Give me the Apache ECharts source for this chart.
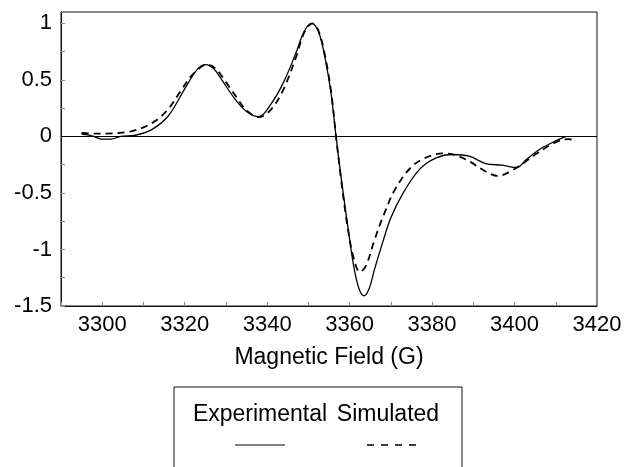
<!DOCTYPE html>
<html>
<head>
<meta charset="utf-8">
<script src="https://cdn.jsdelivr.net/npm/echarts@6/dist/echarts.min.js"></script>
<style>
  html, body { margin: 0; padding: 0; background: #fff; }
  #chart { width: 625px; height: 467px; }
</style>
</head>
<body>
<div id="chart"></div>
<script>
// ── Data ───────────────────────────────────────────────
const expField = [3295, 3297.5, 3300, 3302, 3304.5, 3308, 3312, 3316, 3320, 3323, 3325, 3327, 3329, 3332, 3335, 3338,
  3341, 3344, 3347, 3349, 3350.8, 3352.5, 3354, 3355.5, 3356.7, 3358, 3359.5, 3361, 3362.3, 3363.5, 3364.8, 3366,
  3368, 3370, 3373, 3377, 3381, 3385, 3389, 3393, 3397, 3400.5, 3403, 3406.5, 3410, 3412.5];
const expSignal = [0.02, 0.005, -0.025, -0.025, 0.0, 0.01, 0.06, 0.18, 0.42, 0.59, 0.635, 0.6, 0.5, 0.34, 0.22, 0.175,
  0.29, 0.48, 0.74, 0.93, 1.0, 0.92, 0.7, 0.38, 0.0, -0.38, -0.78, -1.15, -1.35, -1.41, -1.34, -1.18,
  -0.94, -0.72, -0.5, -0.29, -0.19, -0.16, -0.175, -0.24, -0.255, -0.275, -0.2, -0.105, -0.04, 0.0];

const simField = [3295, 3298, 3301, 3304, 3307, 3310, 3313, 3316, 3319, 3322, 3325.5, 3327.5, 3330, 3332.5, 3335, 3338,
  3341, 3344, 3347, 3349, 3351, 3352.5, 3354, 3355.5, 3356.7, 3358, 3359.5, 3361, 3362.5, 3364, 3366,
  3368, 3371, 3375, 3379, 3383, 3386, 3389, 3393, 3396, 3399, 3402, 3405.5, 3409.5, 3413, 3415];
const simSignal = [0.03, 0.025, 0.025, 0.03, 0.045, 0.08, 0.14, 0.24, 0.4, 0.55, 0.635, 0.6, 0.48, 0.35, 0.23, 0.17,
  0.24, 0.42, 0.7, 0.92, 1.0, 0.93, 0.72, 0.4, 0.0, -0.4, -0.8, -1.08, -1.2, -1.14, -0.92,
  -0.72, -0.47, -0.27, -0.18, -0.15, -0.17, -0.22, -0.31, -0.35, -0.31, -0.24, -0.15, -0.06, -0.025, -0.035];

const seriesNames = ['Experimental', 'Simulated'];

// ── Chart ──────────────────────────────────────────────
const FONT = "'Liberation Sans', Arial, sans-serif";
const chart = echarts.init(document.getElementById('chart'), null, { renderer: 'canvas' });

const pairs = (xs, ys) => xs.map((x, i) => [x, ys[i]]);

chart.setOption({
  animation: false,
  backgroundColor: '#fff',
  grid: {
    left: 61, right: 28, top: 12, bottom: 161,
    show: true, borderColor: '#111', borderWidth: 1, backgroundColor: 'transparent',
  },
  xAxis: {
    type: 'value',
    min: 3290, max: 3420, interval: 10,
    name: 'Magnetic Field (G)',
    nameLocation: 'middle',
    nameGap: 40,
    nameTextStyle: { fontFamily: FONT, fontSize: 23, color: '#000' },
    axisLine: { onZero: false, lineStyle: { color: '#111' } },
    axisTick: { inside: true, length: 4, lineStyle: { color: '#888' } },
    splitLine: { show: false },
    axisLabel: {
      fontFamily: FONT, fontSize: 22, color: '#000', margin: 8,
      formatter: v => (v >= 3300 && v % 20 === 0) ? String(v) : '',
    },
  },
  yAxis: {
    type: 'value',
    min: -1.5, max: 1.1, interval: 0.25,
    axisLine: { show: true, lineStyle: { color: '#111' } },
    axisTick: { inside: true, length: 4, lineStyle: { color: '#888' } },
    splitLine: { show: false },
    axisLabel: {
      fontFamily: FONT, fontSize: 22, color: '#000', margin: 9,
      formatter: v => {
        const r = Math.round(v * 100) / 100;
        if (r > 1 || Math.abs(r * 2 - Math.round(r * 2)) > 1e-6) return '';
        return String(r);
      },
    },
  },
  series: [
    {
      name: seriesNames[0],
      type: 'line',
      data: pairs(expField, expSignal),
      smooth: 0.35,
      showSymbol: false,
      lineStyle: { color: '#000', width: 1.3 },
      markLine: {
        silent: true, symbol: 'none', label: { show: false },
        lineStyle: { color: '#000', width: 1, type: 'solid' },
        data: [{ yAxis: 0 }],
      },
    },
    {
      name: seriesNames[1],
      type: 'line',
      data: pairs(simField, simSignal),
      smooth: 0.35,
      showSymbol: false,
      lineStyle: { color: '#000', width: 1.8, type: [7, 5] },
    },
  ],
  // legend box drawn below the plot: names above their line samples
  graphic: [
    { type: 'rect', shape: { x: 174, y: 387, width: 288, height: 100 },
      style: { fill: 'none', stroke: '#111', lineWidth: 1 } },
    { type: 'text', x: 260, y: 415,
      style: { text: seriesNames[0], fontFamily: FONT, fontSize: 23, fill: '#000', align: 'center', verticalAlign: 'middle' } },
    { type: 'text', x: 388, y: 415,
      style: { text: seriesNames[1], fontFamily: FONT, fontSize: 23, fill: '#000', align: 'center', verticalAlign: 'middle' } },
    { type: 'line', shape: { x1: 235, y1: 445, x2: 285, y2: 445 },
      style: { stroke: '#000', lineWidth: 1.2 } },
    { type: 'line', shape: { x1: 367, y1: 445, x2: 417, y2: 445 },
      style: { stroke: '#000', lineWidth: 1.5, lineDash: [7, 7] } },
  ],
});
</script>
</body>
</html>
